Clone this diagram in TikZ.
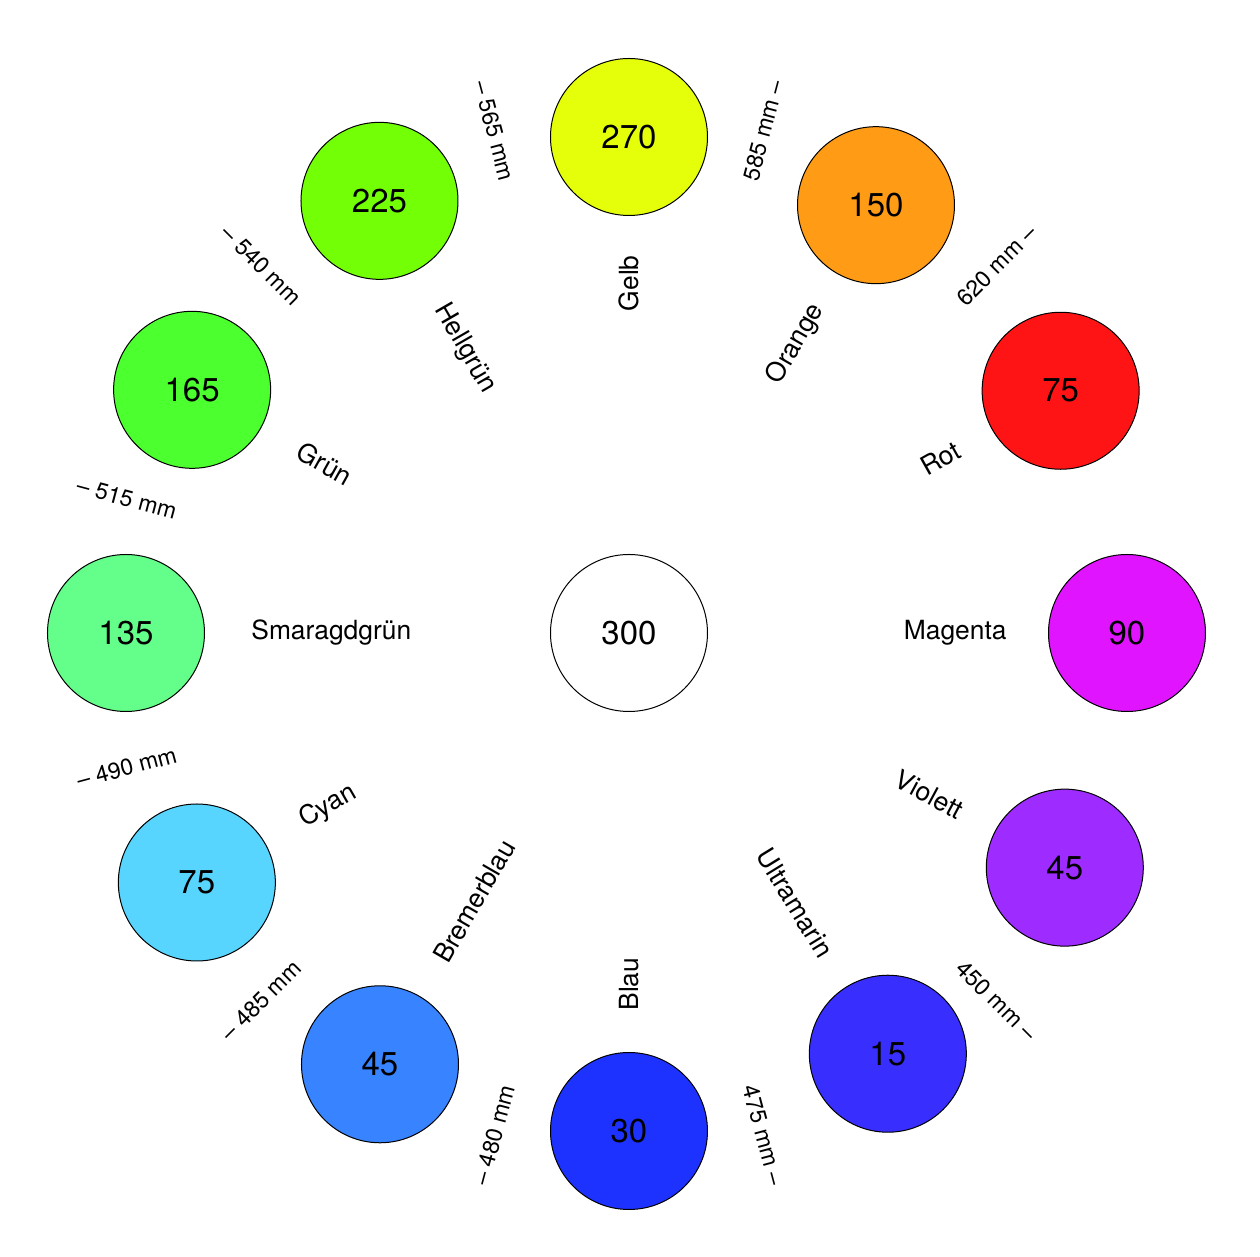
\documentclass[tikz,border=0pt]{standalone}
\usepackage{fontspec}
\setmainfont{TeX Gyre Heros}
\definecolor{tgelb}{RGB}{229,255,10}
\definecolor{torange}{RGB}{255,155,20}
\definecolor{trot}{RGB}{255,20,22}
\definecolor{tmagenta}{RGB}{224,20,255}
\definecolor{tviolett}{RGB}{158,43,255}
\definecolor{tultra}{RGB}{56,47,255}
\definecolor{tblau}{RGB}{30,50,255}
\definecolor{tbremer}{RGB}{56,131,255}
\definecolor{tcyan}{RGB}{88,213,255}
\definecolor{tsmaragd}{RGB}{99,255,138}
\definecolor{tgruen}{RGB}{76,255,46}
\definecolor{thell}{RGB}{115,255,5}

\begin{document}
\begin{tikzpicture}[x=0.5pt,y=0.5pt,
    farbe/.style={circle,draw,line width=0.5pt,minimum size=78.5pt,inner sep=0pt,
      font=\fontsize{16.5}{19}\selectfont},
    farbname/.style={inner sep=0pt,font=\fontsize{13.2}{16}\selectfont},
    masstext/.style={inner sep=0pt,font=\fontsize{11.5}{14}\selectfont}]
    \useasboundingbox (-629,-624) rectangle (631,633);
    \node[farbe,fill=white] (mitte) at (0,0) {300};
    \foreach \a/\d/\v/\t/\c [count=\i] in {
      90/496/270/Gelb/tgelb,60/494/150/Orange/torange,29.3/495/75/Rot/trot,
      0/498/90/Magenta/tmagenta,-28.3/495/45/Violett/tviolett,-58.4/494/15/Ultramarin/tultra,
      -90/498/30/Blau/tblau,-120/498/45/Bremerblau/tbremer,-150/499/75/Cyan/tcyan,
      -180/503/135/Smaragdgrün/tsmaragd,-209.1/500/165/Grün/tgruen,-240/499/225/Hellgrün/thell}
    {
      \ifnum\i<7 \def\anc{east}\pgfmathsetmacro{\r}{\a}\else\def\anc{west}\pgfmathsetmacro{\r}{\a+180}\fi
      \node[farbe,fill=\c] (k\i) at (\a:\d) {\v};
      \node[farbname,rotate=\r,anchor=\anc] (n\i) at (\a:378) {\t};
    }
    \foreach \a/\t [count=\i] in {
      75/585 mm –,45/620 mm –,-45/450 mm –,-75/475 mm –,-105/– 480 mm,
      -135/– 485 mm,-165/– 490 mm,-195/– 515 mm,-225/– 540 mm,-255/– 565 mm}
    {
      \pgfmathsetmacro{\r}{ifthenelse(\a>-90,\a,\a+180)}
      \node[masstext,rotate=\r] (m\i) at (\a:520) {\t};
    }
\end{tikzpicture}
\end{document}
